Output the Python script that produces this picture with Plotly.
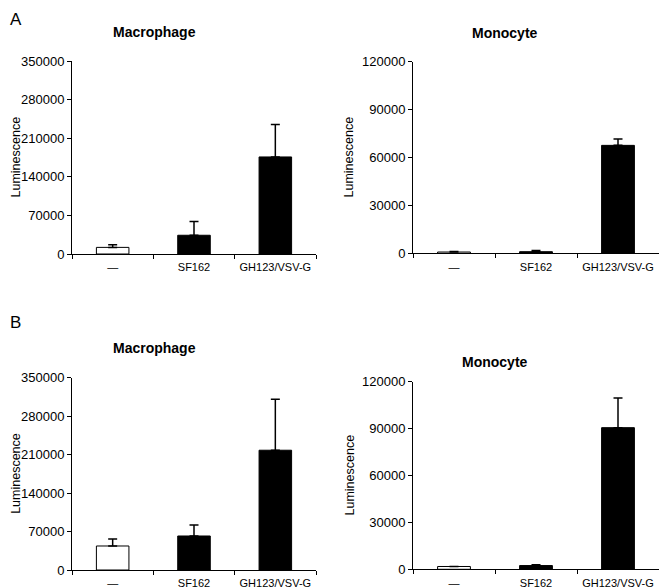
import plotly.graph_objects as go

W, H = 667, 588
OFF = 8  # page body margin offset

categories = ["—", "SF162", "GH123/VSV-G"]
a_macro_vals = [12000, 34000, 176000]
a_macro_err = [5000, 25000, 59000]
a_mono_vals = [800, 1000, 67600]
a_mono_err = [300, 700, 4000]
b_macro_vals = [43700, 61900, 218000]
b_macro_err = [12700, 20000, 93000]
b_mono_vals = [1800, 2400, 90600]
b_mono_err = [0, 500, 19000]

macro_ticks = [0, 70000, 140000, 210000, 280000, 350000]
mono_ticks = [0, 30000, 60000, 90000, 120000]
fill_colors = ["white", "black", "black"]

FONT = "Liberation Sans"


def px(x):
    return (x - OFF) / W


def py(y):
    return 1 - (y - OFF) / H


panels = [
    (a_macro_vals, a_macro_err, macro_ticks, 350000, 72, 316, 61, 254, "Macrophage", 154, 32, 16),
    (a_mono_vals, a_mono_err, mono_ticks, 120000, 413, 659, 61.7, 253.3, "Monocyte", 505, 33, 349),
    (b_macro_vals, b_macro_err, macro_ticks, 350000, 72, 316, 377.7, 570, "Macrophage", 154, 348, 16),
    (b_mono_vals, b_mono_err, mono_ticks, 120000, 413, 659, 381.7, 569.3, "Monocyte", 495, 362, 349),
]

fig = go.Figure()
annotations = []
for i, (vals, err, ticks, ymax, x0, x1, yt, yb, title, tx, ty, lx) in enumerate(panels):
    n = "" if i == 0 else str(i + 1)
    fig.add_trace(go.Bar(
        x=categories, y=vals,
        marker=dict(color=fill_colors, line=dict(color="black", width=1)),
        width=0.4,
        error_y=dict(type="data", array=err, arrayminus=[0] * len(err), symmetric=False,
                     color="black", thickness=1.5, width=4.5),
        xaxis="x" + n, yaxis="y" + n, showlegend=False,
    ))
    fig.layout["xaxis" + n] = dict(
        domain=[px(x0), px(x1)], anchor="y" + n, range=[-0.5, 2.5],
        showline=True, linecolor="black", linewidth=1,
        ticks="outside", tickson="boundaries", ticklen=4, tickcolor="black",
        ticklabelstandoff=3,
        showgrid=False, zeroline=False, automargin=False,
        tickfont=dict(family=FONT, size=11, color="black"),
        fixedrange=True,
    )
    fig.layout["yaxis" + n] = dict(
        domain=[py(yb), py(yt)], anchor="x" + n, range=[0, ymax],
        tickvals=ticks, ticktext=[str(t) for t in ticks],
        showline=True, linecolor="black", linewidth=1,
        ticks="outside", ticklen=4, tickcolor="black",
        showgrid=False, zeroline=False, automargin=False,
        tickfont=dict(family=FONT, size=13, color="black"),
        fixedrange=True,
    )
    annotations.append(dict(text="<b>" + title + "</b>", x=px(tx), y=py(ty),
                            xref="paper", yref="paper", showarrow=False,
                            xanchor="center", yanchor="middle",
                            font=dict(family=FONT, size=14, color="black")))
    annotations.append(dict(text="Luminescence", x=px(lx), y=py((yt + yb) / 2),
                            xref="paper", yref="paper", showarrow=False, textangle=-90,
                            xanchor="center", yanchor="middle",
                            font=dict(family=FONT, size=12.5, color="black")))

annotations.append(dict(text="A", x=0, y=1, xref="paper", yref="paper",
                        showarrow=False, xanchor="left", yanchor="top",
                        font=dict(family=FONT, size=17, color="black")))
annotations.append(dict(text="B", x=0, y=py(322), xref="paper", yref="paper",
                        showarrow=False, xanchor="left", yanchor="middle",
                        font=dict(family=FONT, size=17, color="black")))

fig.update_layout(
    template="none",
    width=W, height=H, margin=dict(l=0, r=0, t=0, b=0, autoexpand=False),
    paper_bgcolor="white", plot_bgcolor="white",
    annotations=annotations, bargap=0.6,
)

fig.write_html("out.html")
